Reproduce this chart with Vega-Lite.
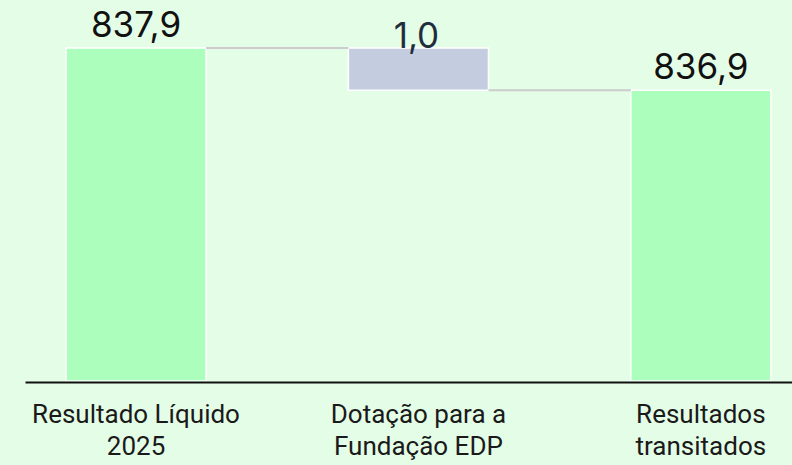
{
  "$schema": "https://vega.github.io/schema/vega-lite/v6.json",
  "width": 767,
  "height": 381,
  "autosize": {"type": "none"},
  "padding": {"left": 25, "top": 0, "right": 0, "bottom": 84},
  "background": "#E4FDE6",
  "config": {"view": {"stroke": null}},
  "datasets": {
    "bars": [
      {"cat": "Resultado Líquido|2025", "lo": 0, "hi": 837.9, "label": "837,9", "kind": "total"},
      {"cat": "Dotação para a|Fundação EDP", "lo": 836.9, "hi": 837.9, "label": "1,0", "kind": "delta"},
      {"cat": "Resultados|transitados", "lo": 0, "hi": 836.9, "label": "836,9", "kind": "total"}
    ],
    "links": [
      {"from": "Resultado Líquido|2025", "to": "Dotação para a|Fundação EDP", "level": 837.9},
      {"from": "Dotação para a|Fundação EDP", "to": "Resultados|transitados", "level": 836.9}
    ]
  },
  "layer": [
    {
      "data": {"name": "bars"},
      "mark": {"type": "bar", "stroke": "white", "strokeWidth": 1.5, "clip": true},
      "encoding": {
        "x": {
          "field": "cat", "type": "nominal", "sort": null,
          "scale": {"domain": ["Resultado Líquido|2025", "Dotação para a|Fundação EDP", "Resultados|transitados"], "paddingInner": 0.504, "paddingOuter": 0.11, "align": 0.66},
          "axis": {
            "title": null, "labelAngle": 0, "ticks": false,
            "domainColor": "#111111", "domainWidth": 2, "offset": 1,
            "labelExpr": "split(datum.label, '|')",
            "labelFont": "Roboto", "labelFontSize": 26, "labelColor": "#1a1a1a",
            "labelLineHeight": 32, "labelPadding": 19, "labelLimit": 0, "labelOverlap": false
          }
        },
        "y": {
          "field": "hi", "type": "quantitative",
          "scale": {"domain": [830, 839.04], "nice": false, "zero": false, "clamp": true},
          "axis": null
        },
        "y2": {"field": "lo"},
        "color": {
          "field": "kind", "type": "nominal",
          "scale": {"domain": ["total", "delta"], "range": ["#ABFEBC", "#C4CCDF"]},
          "legend": null
        }
      }
    },
    {
      "data": {"name": "links"},
      "mark": {"type": "rule", "color": "#CCCCCC", "strokeWidth": 2},
      "encoding": {
        "x": {"field": "from", "type": "nominal", "sort": null, "bandPosition": 1},
        "x2": {"field": "to", "bandPosition": 0},
        "y": {"field": "level", "type": "quantitative"}
      }
    },
    {
      "data": {"name": "bars"},
      "transform": [{"filter": "datum.kind == 'total'"}],
      "mark": {"type": "text", "baseline": "alphabetic", "dy": -11, "font": "Inter", "fontSize": 35, "color": "#111111"},
      "encoding": {
        "x": {"field": "cat", "type": "nominal", "sort": null},
        "y": {"field": "hi", "type": "quantitative"},
        "text": {"field": "label"}
      }
    },
    {
      "data": {"name": "bars"},
      "transform": [{"filter": "datum.kind == 'delta'"}],
      "mark": {"type": "text", "baseline": "alphabetic", "dy": 0, "dx": -2, "font": "Inter", "fontSize": 35, "color": "#1F2D3D"},
      "encoding": {
        "x": {"field": "cat", "type": "nominal", "sort": null},
        "y": {"field": "hi", "type": "quantitative"},
        "text": {"field": "label"}
      }
    }
  ]
}
